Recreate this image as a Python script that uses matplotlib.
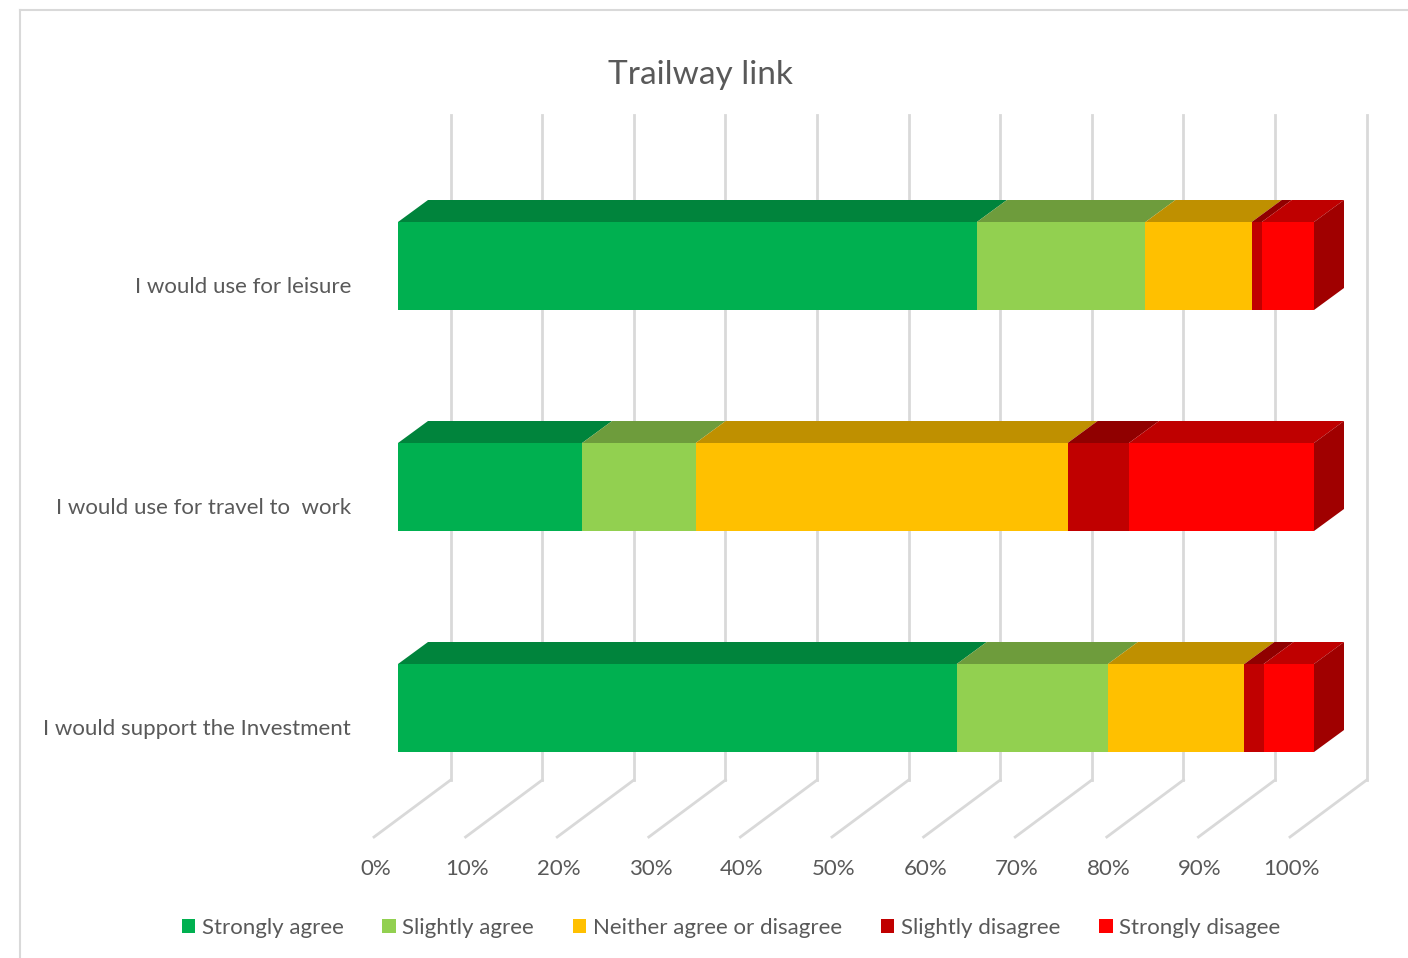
import numpy as np
import matplotlib.pyplot as plt
from matplotlib.patches import Polygon, Patch

# data (percent of responses)
categories = ['I would use for leisure', 'I would use for travel to  work', 'I would support the Investment']
responses = ['Strongly agree', 'Slightly agree', 'Neither agree or disagree', 'Slightly disagree', 'Strongly disagee']
strongly_agree = [63.2, 20.1, 61.0]
slightly_agree = [18.4, 12.4, 16.5]
neither = [11.6, 40.6, 14.9]
slightly_disagree = [1.1, 6.7, 2.1]
strongly_disagree = [5.7, 20.2, 5.5]
ticks = [0, 10, 20, 30, 40, 50, 60, 70, 80, 90, 100]

front_cols = ['#00B050', '#92D050', '#FFC000', '#C00000', '#FF0000']
top_cols = ['#00843C', '#6E9C3C', '#BF9000', '#900000', '#BF0000']
side_col = '#A00000'
text_col = '#595959'
grid_col = '#D9D9D9'

plt.rcParams['font.family'] = ['Lato', 'DejaVu Sans']

W, H = 1408, 958
fig = plt.figure(figsize=(W / 100, H / 100), dpi=100)
ax = fig.add_axes([0, 0, 1, 1])
ax.axis('off')

# mapping: x in percent, y in rows (pixels used only to set the view)
PX = 9.16   # px per percent
PY = 221.0  # px per row
x0, y0 = 398, 266
ax.set_xlim(-x0 / PX, (W - x0) / PX)
ax.set_ylim((H - y0) / PY, -y0 / PY)

bar_h = 88 / PY
dx, dy = 30 / PX, 22 / PY          # bar depth
gx_front, gx_back = -2.62, 5.75    # gridline planes
floor_front = (837 - y0) / PY
floor_back = (780 - y0) / PY
wall_top = (115 - y0) / PY

# outer chart border (cropped)
ax.plot([(20 - x0) / PX] * 2, [(H - y0) / PY, (10 - y0) / PY], color=grid_col, lw=1.5, zorder=0)
ax.plot([(20 - x0) / PX, (W - x0) / PX], [(10 - y0) / PY] * 2, color=grid_col, lw=1.5, zorder=0)

# gridlines: back wall + floor
for t in ticks:
    ax.plot([t + gx_back, t + gx_back], [wall_top, floor_back], color=grid_col, lw=2, zorder=1)
    ax.plot([t + gx_back, t + gx_front], [floor_back, floor_front], color=grid_col, lw=2, zorder=1)
    ax.text(t - 2.45, (869 - y0) / PY, f'{t}%', ha='center', va='center',
            fontsize=16, color=text_col)

series = [strongly_agree, slightly_agree, neither, slightly_disagree, strongly_disagree]
rows = np.arange(len(categories))
left = np.zeros(len(categories))
for vals, fc, tc in zip(series, front_cols, top_cols):
    vals = np.array(vals)
    ax.barh(rows, vals, left=left, height=bar_h, color=fc, zorder=3)
    for r, l, v in zip(rows, left, vals):
        yt = r - bar_h / 2
        ax.add_patch(Polygon([(l, yt), (l + v, yt), (l + v + dx, yt - dy), (l + dx, yt - dy)],
                             closed=True, facecolor=tc, edgecolor='none', zorder=3))
    left = left + vals

# right end side face
for r, l in zip(rows, left):
    yt, yb = r - bar_h / 2, r + bar_h / 2
    ax.add_patch(Polygon([(l, yt), (l + dx, yt - dy), (l + dx, yb - dy), (l, yb)],
                         closed=True, facecolor=side_col, edgecolor='none', zorder=3))

# category labels
for r, c in zip(rows, categories):
    ax.text((351 - x0) / PX, r + 21 / PY, c, ha='right', va='center',
            fontsize=16, color=text_col)

ax.text((700 - x0) / PX, (75 - y0) / PY, 'Trailway link', ha='center', va='center',
        fontsize=24, color=text_col)

handles = [Patch(facecolor=c, edgecolor='none', label=lab) for c, lab in zip(front_cols, responses)]
leg = fig.legend(handles=handles, loc='center', bbox_to_anchor=(731 / W, 1 - 928 / H), ncol=5,
                 frameon=False, fontsize=16, handlelength=0.6, handleheight=0.6,
                 handletextpad=0.3, columnspacing=1.75)
for t in leg.get_texts():
    t.set_color(text_col)

fig.savefig('out.png', dpi=100, facecolor='white')
